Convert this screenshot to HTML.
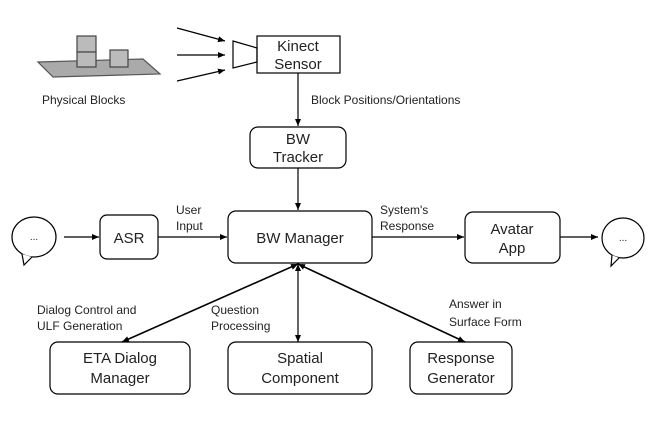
<!DOCTYPE html>
<html><head><style>
body{margin:0;background:#fff;}
svg text{font-family:"Liberation Sans",sans-serif;fill:#222;}
</style></head><body>
<svg width="663" height="419" viewBox="0 0 663 419" xmlns="http://www.w3.org/2000/svg">
<defs>
<marker id="a" markerWidth="8" markerHeight="8" refX="7" refY="3" orient="auto-start-reverse" markerUnits="userSpaceOnUse"><path d="M0,0 L7,3 L0,6 z" fill="#000"/></marker>
</defs>
<g stroke="#000" stroke-width="1.2" fill="none">
<!-- blocks scene -->
<polygon points="38,62 143,59 160,74 53,77" fill="#aaa" stroke="#555"/>
<rect x="77" y="36" width="19" height="16" fill="#bbb" stroke="#444"/>
<rect x="77" y="52" width="19" height="15" fill="#bbb" stroke="#444"/>
<rect x="110" y="50" width="18" height="17" fill="#bbb" stroke="#444"/>
<line x1="177" y1="28" x2="225" y2="41" marker-end="url(#a)"/>
<line x1="177" y1="55" x2="225" y2="55" marker-end="url(#a)"/>
<line x1="177" y1="81" x2="225" y2="70" marker-end="url(#a)"/>
<polygon points="233,41 257,48 257,62 233,68"/>
<rect x="257" y="36" width="83" height="37"/>
<line x1="298" y1="73" x2="298" y2="126" marker-end="url(#a)"/>
<rect x="250" y="127" width="96" height="41" rx="8"/>
<line x1="298" y1="168" x2="298" y2="210" marker-end="url(#a)"/>
<!-- row -->
<ellipse cx="34" cy="237" rx="22" ry="20"/>
<line x1="64" y1="237" x2="99" y2="237" marker-end="url(#a)"/>
<rect x="100" y="215" width="58" height="44" rx="7"/>
<line x1="158" y1="237" x2="227" y2="237" marker-end="url(#a)"/>
<rect x="228" y="211" width="144" height="52" rx="8"/>
<line x1="372" y1="237" x2="464" y2="237" marker-end="url(#a)"/>
<rect x="465" y="212" width="95" height="51" rx="8"/>
<line x1="560" y1="237" x2="598" y2="237" marker-end="url(#a)"/>
<ellipse cx="623" cy="238" rx="21" ry="20"/>
<!-- bottom -->
<line x1="298" y1="264" x2="122" y2="342" marker-start="url(#a)" marker-end="url(#a)" stroke-width="1.6"/>
<line x1="298" y1="264" x2="298" y2="342" marker-start="url(#a)" marker-end="url(#a)"/>
<line x1="298" y1="264" x2="465" y2="342" marker-start="url(#a)" marker-end="url(#a)" stroke-width="1.6"/>
<rect x="50" y="342" width="140" height="52" rx="8"/>
<rect x="228" y="342" width="144" height="52" rx="8"/>
<rect x="410" y="342" width="102" height="52" rx="8"/>
</g>
<!-- bubble tails -->
<path d="M22,254 L24,265 L32,257" fill="#fff" stroke="#000" stroke-width="1.2"/>
<path d="M612,255 L611,266 L619,258" fill="#fff" stroke="#000" stroke-width="1.2"/>
<g font-size="10" text-anchor="middle"><text x="34" y="240">...</text><text x="623" y="241">...</text></g>
<g font-size="15" text-anchor="middle">
<text x="298" y="51">Kinect</text><text x="298" y="69">Sensor</text>
<text x="298" y="144">BW</text><text x="298" y="162">Tracker</text>
<text x="129" y="243">ASR</text>
<text x="300" y="243">BW Manager</text>
<text x="512" y="234">Avatar</text><text x="512" y="253">App</text>
<text x="120" y="363">ETA Dialog</text><text x="120" y="383">Manager</text>
<text x="300" y="363">Spatial</text><text x="300" y="383">Component</text>
<text x="461" y="363">Response</text><text x="461" y="383">Generator</text>
</g>
<g font-size="12">
<text x="42" y="104">Physical Blocks</text>
<text x="311" y="104">Block Positions/Orientations</text>
<text x="176" y="214">User</text><text x="176" y="230">Input</text>
<text x="380" y="214">System's</text><text x="380" y="230">Response</text>
<text x="37" y="314">Dialog Control and</text><text x="37" y="330">ULF Generation</text>
<text x="211" y="314">Question</text><text x="211" y="330">Processing</text>
<text x="449" y="308">Answer in</text><text x="449" y="326">Surface Form</text>
</g>
</svg>
</body></html>
